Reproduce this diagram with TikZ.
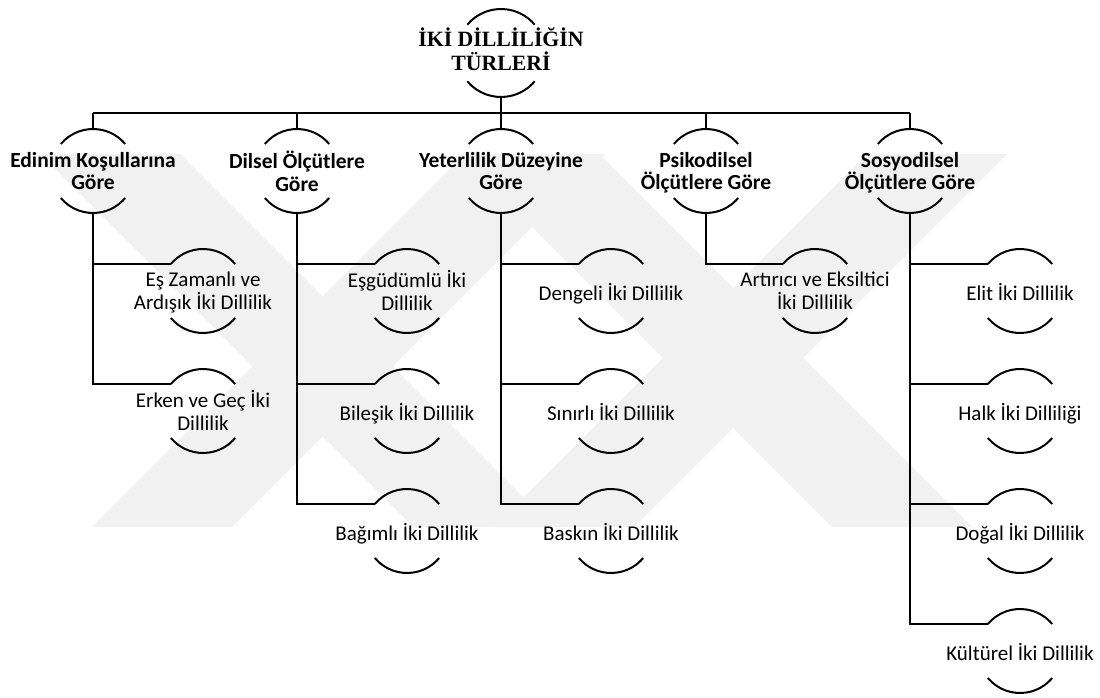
\documentclass[tikz,border=0pt]{standalone}
\usepackage{fontspec}
\setmainfont{Carlito}
\newfontfamily\rootfont{Liberation Serif}
\newcommand\topstrut{\lineskiplimit=-50pt\relax\rule{0pt}{20pt}}
\newcommand\botstrut{\rule[-6pt]{0pt}{6pt}}
\definecolor{wmark}{gray}{0.945}
\tikzset{
  ln/.style={line width=2pt, line cap=butt},
  wm/.style={fill=wmark, draw=none},
  strutted/.style={align=center, inner sep=0pt,
    execute at begin node={\topstrut}, execute at end node={\botstrut}},
  kidtxt/.style={strutted, yshift=-2.5pt, font=\fontsize{21}{23.5}\selectfont},
  cattxt/.style={strutted, yshift=-3pt, font=\fontsize{21.5}{22.6}\selectfont\bfseries},
  roottxt/.style={strutted, yshift=1pt, font=\rootfont\fontsize{21.8}{24.5}\selectfont\bfseries},
}
% #1 text style, #2 name, #3 position, #4 radius, #5 text
\newcommand\knode[5]{%
  \coordinate (#2) at (#3);
  \node[#1] (#2-txt) at (#2) {#5};
  \draw[ln] ([shift={(140:#4pt)}]#2) arc[start angle=140, end angle=40, radius=#4pt];
  \draw[ln] ([shift={(220:#4pt)}]#2) arc[start angle=220, end angle=320, radius=#4pt];
  \coordinate (#2-t) at ([shift={(90:#4pt)}]#2);
  \coordinate (#2-b) at ([shift={(270:#4pt)}]#2);
  \coordinate (#2-l) at ([shift={(140:#4pt)}]#2);
}
\begin{document}
\begin{tikzpicture}[x=1pt, y=-1pt]
\useasboundingbox (0,0) rectangle (1100,698);
\fill[white] (0,0) rectangle (1100,698);

% faint background watermark
\fill[wm] (40,154) -- (180,154) -- (553,527) -- (413,527) -- cycle;
\fill[wm] (92,527) -- (232,527) -- (605,154) -- (465,154) -- cycle;
\fill[wm] (494,527) -- (634,527) -- (1007,154) -- (867,154) -- cycle;
\fill[wm] (459,154) -- (599,154) -- (972,527) -- (832,527) -- cycle;

% root
\knode{roottxt}{root}{501,53}{44}{İKİ DİLLİLİĞİN\\TÜRLERİ}

% categories
\knode{cattxt}{ca}{93,171}{42}{Edinim Koşullarına\\Göre}
\knode{cattxt}{cb}{297,171}{42}{Dilsel Ölçütlere\\Göre}
\knode{cattxt}{cc}{501,171}{42}{Yeterlilik Düzeyine\\Göre}
\knode{cattxt}{cd}{706,171}{42}{Psikodilsel\\Ölçütlere Göre}
\knode{cattxt}{ce}{910,171}{42}{Sosyodilsel\\Ölçütlere Göre}

% children
\knode{kidtxt}{a1}{203,291}{42}{Eş Zamanlı ve\\Ardışık İki Dillilik}
\knode{kidtxt}{a2}{203,411}{42}{Erken ve Geç İki\\Dillilik}

\knode{kidtxt}{b1}{407,291}{42}{Eşgüdümlü İki\\Dillilik}
\knode{kidtxt}{b2}{407,411}{42}{Bileşik İki Dillilik}
\knode{kidtxt}{b3}{407,531}{42}{Bağımlı İki Dillilik}

\knode{kidtxt}{c1}{611,291}{42}{Dengeli İki Dillilik}
\knode{kidtxt}{c2}{611,411}{42}{Sınırlı İki Dillilik}
\knode{kidtxt}{c3}{611,531}{42}{Baskın İki Dillilik}

\knode{kidtxt}{d1}{815,291}{42}{Artırıcı ve Eksiltici\\İki Dillilik}

\knode{kidtxt}{e1}{1020,291}{42}{Elit İki Dillilik}
\knode{kidtxt}{e2}{1020,411}{42}{Halk İki Dilliliği}
\knode{kidtxt}{e3}{1020,531}{42}{Doğal İki Dillilik}
\knode{kidtxt}{e4}{1020,651}{42}{Kültürel İki Dillilik}

% connectors root -> categories
\coordinate (bar) at (0,113);
\draw[ln] (root-b) -- (root-b |- bar);
\draw[ln] (ca-t |- bar) -- (ce-t |- bar);
\foreach \n in {ca,cb,cc,cd,ce}{\draw[ln] (\n-t |- bar) -- (\n-t);}

% connectors categories -> children
\foreach \p/\c in {ca/a1,ca/a2,cb/b1,cb/b2,cb/b3,cc/c1,cc/c2,cc/c3,cd/d1,ce/e1,ce/e2,ce/e3,ce/e4}{
  \draw[ln] (\p-b) |- (\c-l);
}
\end{tikzpicture}
\end{document}
